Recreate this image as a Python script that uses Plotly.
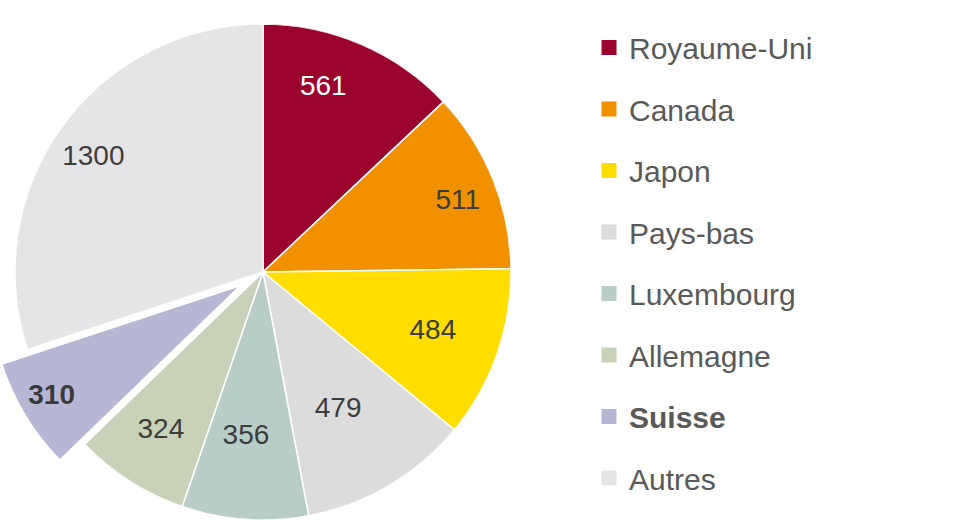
import math
import plotly.graph_objects as go

# ---- data ----
labels = ["Royaume-Uni", "Canada", "Japon", "Pays-bas", "Luxembourg", "Allemagne", "Suisse", "Autres"]
values = [561, 511, 484, 479, 356, 324, 310, 1300]
colors = ["#9B022E", "#F29100", "#FFDD00", "#DCDCDD", "#B8CCC8", "#C8D2B8", "#B7B7D5", "#E5E4E6"]
pulled_label = "Suisse"

# ---- styling (label placement inside slices, as fraction of radius / small angle nudge) ----
text_colors = ["#FFFFFF", "#3D3D3D", "#3D3D3D", "#3D3D3D", "#3D3D3D", "#3D3D3D", "#3A3A3A", "#3D3D3D"]
label_r = [0.78, 0.835, 0.727, 0.632, 0.669, 0.762, 0.873, 0.824]
label_dtheta = [-5.2, 2.2, 0.2, 1.9, 1.7, 0.2, 0.6, -2.0]

W, H = 955, 522
CX, CY, R = 263, 272, 248     # main pie centre / radius (px)
PULL = 29                     # offset of the pulled slice (px)
FONT = "Liberation Sans, Arial, sans-serif"
FS = 28
LFS = 30

total = sum(values)
starts, mids, spans = [], [], []
acc = 0
for v in values:
    s = 360 * acc / total
    w = 360 * v / total
    starts.append(s); spans.append(w); mids.append(s + w / 2)
    acc += v

k = labels.index(pulled_label)
th_s, th_e, th_m = starts[k], starts[k] + spans[k], mids[k]


def vec(theta, rad):
    t = math.radians(theta)
    return rad * math.sin(t), -rad * math.cos(t)


# sector sub-plot for the pulled slice
dx, dy = vec(th_m, PULL)
ax_, ay_ = CX + dx, CY + dy
pts = [(ax_, ay_)]
for t in [th_s, th_e] + [c for c in (0, 90, 180, 270, 360) if th_s < c < th_e]:
    vx, vy = vec(t, R)
    pts.append((ax_ + vx, ay_ + vy))
xmin = max(0, min(p[0] for p in pts)); xmax = max(p[0] for p in pts)
ymin = min(p[1] for p in pts); ymax = min(H, max(p[1] for p in pts))
sector = [(90 - th_e) % 360, (90 - th_e) % 360 + spans[k]]

fig = go.Figure()

main_idx = [i for i in range(len(labels)) if i != k]
fig.add_trace(go.Barpolar(
    r=[1] * len(main_idx), theta=[mids[i] for i in main_idx], width=[spans[i] for i in main_idx],
    base=[0] * len(main_idx),
    marker=dict(color=[colors[i] for i in main_idx], line=dict(color="white", width=1.5)),
    text=[labels[i] for i in main_idx], hovertemplate="%{text}<extra></extra>",
    subplot="polar", showlegend=False,
))
fig.add_trace(go.Scatterpolar(
    r=[label_r[i] for i in main_idx],
    theta=[mids[i] + label_dtheta[i] for i in main_idx],
    mode="text", text=[str(values[i]) for i in main_idx],
    textfont=dict(family=FONT, size=FS, color=[text_colors[i] for i in main_idx]),
    cliponaxis=False, subplot="polar", showlegend=False, hoverinfo="skip",
))

fig.add_trace(go.Barpolar(
    r=[1], theta=[th_m], width=[spans[k]], base=[0],
    marker=dict(color=colors[k], line=dict(width=0)),
    text=[labels[k]], hovertemplate="%{text}<extra></extra>",
    subplot="polar2", showlegend=False,
))
fig.add_trace(go.Scatterpolar(
    r=[label_r[k]], theta=[th_m + label_dtheta[k]], mode="text",
    text=["<b>%d</b>" % values[k]],
    textfont=dict(family=FONT, size=FS, color=text_colors[k]),
    cliponaxis=False, subplot="polar2", showlegend=False, hoverinfo="skip",
))

# legend entries
for i, (l, c) in enumerate(zip(labels, colors)):
    name = "<b>%s</b>" % l if l == pulled_label else l
    fig.add_trace(go.Scatter(
        x=[None], y=[None], mode="markers", name=name, legendgroup="g%d" % i,
        marker=dict(symbol="square", size=15, color=c, line=dict(width=0)),
    ))

axis_off = dict(visible=False)
fig.update_layout(
    width=W, height=H, margin=dict(l=0, r=0, t=0, b=0),
    paper_bgcolor="white", plot_bgcolor="white",
    xaxis=axis_off, yaxis=axis_off,
    polar=dict(
        domain=dict(x=[(CX - R) / W, (CX + R) / W], y=[1 - (CY + R) / H, 1 - (CY - R) / H]),
        bgcolor="rgba(0,0,0,0)", hole=0, bargap=0,
        radialaxis=dict(visible=False, range=[0, 1]),
        angularaxis=dict(visible=False, rotation=90, direction="clockwise"),
    ),
    polar2=dict(
        domain=dict(x=[xmin / W, xmax / W], y=[1 - ymax / H, 1 - ymin / H]),
        sector=sector, hole=0, bargap=0, bgcolor="rgba(0,0,0,0)",
        radialaxis=dict(visible=False, range=[0, 1]),
        angularaxis=dict(visible=False, rotation=90, direction="clockwise"),
    ),
    legend=dict(
        x=589 / W, xanchor="left", y=1 - 21.5 / H, yanchor="top",
        font=dict(family=FONT, size=LFS, color="#595959"),
        tracegroupgap=19.5, itemclick=False, bgcolor="rgba(0,0,0,0)",
    ),
    showlegend=True,
)

fig.write_html("out.html", config={"displayModeBar": False},
               post_script="document.body.style.margin='0';")
